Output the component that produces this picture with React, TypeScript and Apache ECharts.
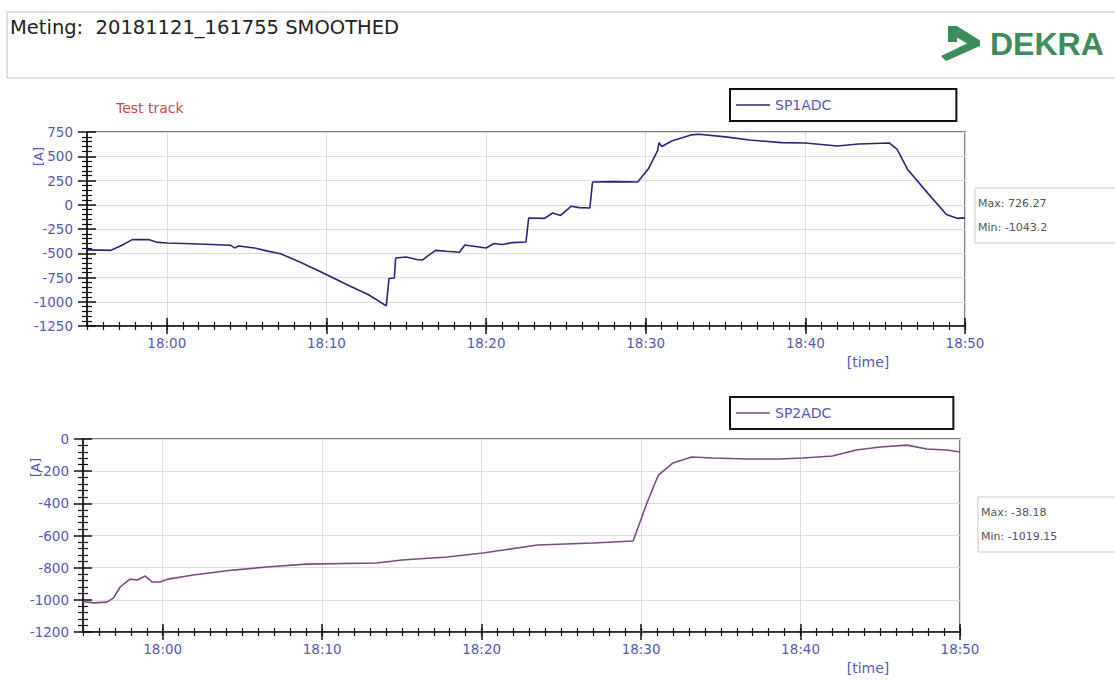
import React, { useEffect, useRef } from "react";
import * as echarts from "echarts";

const title = "Meting:  20181121_161755 SMOOTHED";
const xMin = "17:55:00";
const xMax = "18:50:00";
const majorTimes = ["18:00", "18:10", "18:20", "18:30", "18:40", "18:50"];

const sp1Times = [
  "17:55:00", "17:56:30", "17:57:10", "17:57:50", "17:58:50", "17:59:20", "18:00:00", "18:02:00",
  "18:04:00", "18:04:15", "18:04:30", "18:05:30", "18:06:20", "18:07:10", "18:08:20", "18:09:40",
  "18:11:20", "18:12:40", "18:13:45", "18:13:55", "18:14:15", "18:14:20", "18:15:00", "18:15:40",
  "18:16:00", "18:16:20", "18:16:50", "18:17:30", "18:18:20", "18:18:40", "18:19:20", "18:20:00",
  "18:20:30", "18:21:00", "18:21:40", "18:22:30", "18:22:40", "18:23:40", "18:24:10", "18:24:40",
  "18:25:20", "18:25:50", "18:26:30", "18:26:40", "18:28:00", "18:29:30", "18:30:10", "18:30:45",
  "18:30:50", "18:31:00", "18:31:40", "18:32:50", "18:33:20", "18:35:00", "18:36:30", "18:38:30",
  "18:40:00", "18:42:00", "18:43:20", "18:45:15", "18:45:45", "18:46:25", "18:47:40", "18:48:50",
  "18:49:30", "18:50:00",
];
const sp1Values = [
  -465, -470, -420, -360, -358, -385, -394, -405,
  -418, -445, -425, -446, -478, -508, -590, -693,
  -827, -930, -1043.2, -760, -755, -549, -539, -565,
  -570, -530, -470, -480, -490, -415, -430, -446,
  -400, -410, -390, -384, -137, -140, -85, -110,
  -15, -30, -34, 234, 238, 234, 370, 560,
  640, 600, 660, 720, 726.27, 700, 668, 640,
  637, 606, 626, 637, 570, 360, 120, -100,
  -140, -135,
];

const sp2Times = [
  "17:55:00", "17:55:40", "17:56:30", "17:56:54", "17:57:20", "17:57:57", "17:58:24", "17:58:54",
  "17:59:20", "17:59:50", "18:00:20", "18:01:55", "18:04:25", "18:06:30", "18:09:00", "18:13:25",
  "18:15:00", "18:17:50", "18:20:05", "18:23:30", "18:27:00", "18:29:30", "18:30:22", "18:31:05",
  "18:32:00", "18:33:10", "18:34:30", "18:36:38", "18:38:40", "18:40:08", "18:42:00", "18:43:30",
  "18:45:00", "18:46:40", "18:47:55", "18:49:10", "18:50:00",
];
const sp2Values = [
  -1010, -1019.15, -1014, -989, -920, -871, -877, -852,
  -889, -889, -871, -846, -815, -796, -778, -771,
  -752, -734, -709, -659, -647, -634, -398, -224,
  -149, -112, -118, -124, -124, -118, -106, -68,
  -50, -38.18, -62, -68, -81,
];

const sp1Stats = ["Max: 726.27", "Min: -1043.2"];
const sp2Stats = ["Max: -38.18", "Min: -1019.15"];

const toMin = (s: string) => {
  const p = s.split(":").map(Number);
  return p[0] * 60 + p[1] + (p[2] || 0) / 60;
};
const fmt = (v: number) => {
  const h = Math.floor(v / 60);
  const m = Math.round(v - h * 60);
  return `${h}:${m < 10 ? "0" + m : m}`;
};

const FONT = "DejaVu Sans";
const LABEL = "#5757b8";
const AXIS = "#111";

export default function App() {
  const ref = useRef<HTMLDivElement>(null);
  useEffect(() => {
    if (!ref.current) return;
    const chart = echarts.init(ref.current, null, { renderer: "svg" });
    const logo = "M18,1 L27,1 L50,15.5 L50,21 L16,36 L11,31 L37,18.5 L27,12.5 L27,17 L18,17 Z";
    echarts.graphic.registerShape("dekraLogo", echarts.graphic.extendPath(logo, {}));

    const mn = toMin(xMin);
    const mx = toMin(xMax);
    const majors = majorTimes.map(toMin);

    const xAxesFor = (g: number) => [
      {
        type: "value", gridIndex: g, min: mn, max: mx, position: "bottom",
        axisLine: { show: true, onZero: false, lineStyle: { color: AXIS, width: 1.5 } },
        axisTick: { show: true, customValues: majors, length: 8, lineStyle: { color: AXIS, width: 1.5 } },
        axisLabel: { customValues: majors, formatter: fmt, color: LABEL, fontSize: 13.5, fontFamily: FONT, margin: 10 },
        splitLine: { show: true, lineStyle: { color: "#dcdcdc", width: 1 } },
      },
      {
        type: "value", gridIndex: g, min: mn, max: mx, position: "bottom",
        axisLine: { show: false, onZero: false },
        axisTick: { show: true, inside: true, customValues: majors, length: 8, lineStyle: { color: AXIS, width: 1.5 } },
        axisLabel: { show: false },
        splitLine: { show: false },
      },
      {
        type: "value", gridIndex: g, min: mn, max: mx, interval: 1, position: "bottom",
        axisLine: { show: false, onZero: false },
        axisTick: { show: true, length: 4, lineStyle: { color: AXIS, width: 1.2 } },
        axisLabel: { show: false },
        splitLine: { show: false },
      },
      {
        type: "value", gridIndex: g, min: mn, max: mx, interval: 1, position: "bottom",
        axisLine: { show: false, onZero: false },
        axisTick: { show: true, inside: true, length: 4, lineStyle: { color: AXIS, width: 1.2 } },
        axisLabel: { show: false },
        splitLine: { show: false },
      },
    ];

    const yAxesFor = (g: number, min: number, max: number, interval: number) => [
      {
        type: "value", gridIndex: g, min, max, interval, position: "left",
        axisLine: { show: true, onZero: false, lineStyle: { color: AXIS, width: 1.5 } },
        axisTick: { show: true, length: 9, lineStyle: { color: AXIS, width: 1.5 } },
        minorTick: { show: true, splitNumber: 5, length: 5, lineStyle: { color: AXIS, width: 1.2 } },
        axisLabel: { color: LABEL, fontSize: 13.5, fontFamily: FONT, margin: 14, formatter: (v: number) => String(v) },
        splitLine: { show: true, lineStyle: { color: "#dcdcdc", width: 1 } },
      },
      {
        type: "value", gridIndex: g, min, max, interval, position: "left",
        axisLine: { show: false, onZero: false },
        axisTick: { show: true, inside: true, length: 9, lineStyle: { color: AXIS, width: 1.5 } },
        minorTick: { show: true, splitNumber: 5, length: 5, lineStyle: { color: AXIS, width: 1.2 } },
        axisLabel: { show: false },
        splitLine: { show: false },
      },
    ];

    const legendBase = {
      orient: "horizontal",
      borderColor: "#111",
      borderWidth: 2,
      borderRadius: 0,
      itemWidth: 34,
      itemHeight: 1.5,
      itemGap: 5,
      icon: "rect",
      textStyle: { color: LABEL, fontSize: 14, fontFamily: FONT, lineHeight: 16 },
    };

    const statBox = (x: number, y: number, lines: string[]) => ({
      type: "group",
      children: [
        { type: "rect", shape: { x, y, width: 150, height: 55 }, style: { fill: "#fff", stroke: "#c8c8c8", lineWidth: 1 } },
        { type: "text", x: x + 3, y: y + 15, style: { text: lines[0], fill: "#555", fontSize: 11, fontFamily: FONT, verticalAlign: "middle" } },
        { type: "text", x: x + 3, y: y + 39, style: { text: lines[1], fill: "#555", fontSize: 11, fontFamily: FONT, verticalAlign: "middle" } },
      ],
    });

    chart.setOption({
      animation: false,
      backgroundColor: "#fff",
      grid: [
        { left: 87, top: 132, width: 878, height: 194, show: true, borderColor: "#555", borderWidth: 1.5, backgroundColor: "transparent" },
        { left: 83, top: 439, width: 877, height: 193, show: true, borderColor: "#555", borderWidth: 1.5, backgroundColor: "transparent" },
      ],
      xAxis: [...xAxesFor(0), ...xAxesFor(1)],
      yAxis: [...yAxesFor(0, -1250, 750, 250), ...yAxesFor(1, -1200, 0, 200)],
      legend: [
        { ...legendBase, data: ["SP1ADC"], left: 730, top: 89, padding: [8, 125, 8, 6] },
        { ...legendBase, data: ["SP2ADC"], left: 730, top: 397, padding: [8, 122, 8, 6] },
      ],
      series: [
        {
          name: "SP1ADC", type: "line", xAxisIndex: 0, yAxisIndex: 0, symbol: "none",
          data: sp1Times.map((t, i) => [toMin(t), sp1Values[i]]),
          lineStyle: { color: "#26267a", width: 1.6 }, itemStyle: { color: "#26267a" },
        },
        {
          name: "SP2ADC", type: "line", xAxisIndex: 4, yAxisIndex: 2, symbol: "none",
          data: sp2Times.map((t, i) => [toMin(t), sp2Values[i]]),
          lineStyle: { color: "#7a4a86", width: 1.6 }, itemStyle: { color: "#7a4a86" },
        },
      ],
      graphic: [
        { type: "rect", shape: { x: 7, y: 12, width: 1120, height: 66 }, style: { fill: "none", stroke: "#c0c0c0", lineWidth: 1 } },
        { type: "text", x: 10, y: 27, style: { text: title, fill: "#222", fontSize: 19.5, fontFamily: FONT, verticalAlign: "middle" } },
        { type: "dekraLogo", x: 930, y: 25, scaleX: 1, scaleY: 1, style: { fill: "#3d8c5c" } },
        { type: "text", x: 990, y: 44, style: { text: "DEKRA", fill: "#3d8c5c", fontSize: 32, fontWeight: "bold", fontFamily: "Liberation Sans", verticalAlign: "middle" } },
        { type: "text", x: 116, y: 108, style: { text: "Test track", fill: "#c84a4a", fontSize: 14, fontFamily: FONT, verticalAlign: "middle" } },
        { type: "text", x: 32, y: 166, rotation: Math.PI / 2, style: { text: "[A]", fill: LABEL, fontSize: 13, fontFamily: FONT, verticalAlign: "top" } },
        { type: "text", x: 29, y: 477, rotation: Math.PI / 2, style: { text: "[A]", fill: LABEL, fontSize: 13, fontFamily: FONT, verticalAlign: "top" } },
        { type: "text", x: 868, y: 362, style: { text: "[time]", fill: LABEL, fontSize: 14, fontFamily: FONT, align: "center", verticalAlign: "middle" } },
        { type: "text", x: 868, y: 668, style: { text: "[time]", fill: LABEL, fontSize: 14, fontFamily: FONT, align: "center", verticalAlign: "middle" } },
        statBox(975, 188, sp1Stats),
        statBox(978, 497, sp2Stats),
      ],
    });
    return () => chart.dispose();
  }, []);
  return (
    <div
      ref={ref}
      style={{ position: "absolute", left: 0, top: 0, width: 1115, height: 680, background: "#fff" }}
    />
  );
}
